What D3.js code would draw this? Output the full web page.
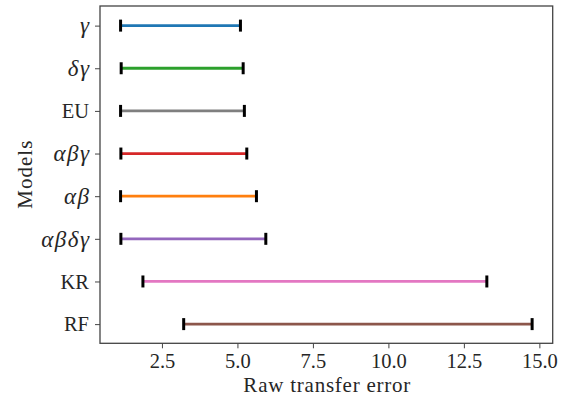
<!DOCTYPE html>
<html>
<head>
<meta charset="utf-8">
<script src="https://cdn.jsdelivr.net/npm/d3@7"></script>
<style>
  html, body { margin: 0; padding: 0; background: #fff; }
  svg text { font-family: "Liberation Serif", "DejaVu Serif", serif; fill: #262626; }
</style>
</head>
<body>
<svg id="chart" width="561" height="402"></svg>
<script>
// Models, top to bottom, with the low/high end of each raw transfer error range
const models = ["γ", "δγ", "EU", "αβγ", "αβ", "αβδγ", "KR", "RF"];
const italicModels = [true, true, false, true, true, true, false, false];
const lowValues  = [1.13, 1.15, 1.13, 1.14, 1.13, 1.14, 1.87, 3.22];
const highValues = [5.10, 5.19, 5.23, 5.31, 5.63, 5.94, 13.26, 14.76];
const colors = ["#1f77b4", "#2ca02c", "#7f7f7f", "#d62728", "#ff7f0e", "#9467bd", "#e377c2", "#8c564b"];
const xTicks = [2.5, 5.0, 7.5, 10.0, 12.5, 15.0];

(function () {
  const svg = d3.select("#chart");
  const plotLeft = 100, plotRight = 552.7, plotTop = 6, plotBottom = 343.3;

  // x range padded by 5% of the data span on each side
  const lo = d3.min(lowValues), hi = d3.max(highValues), pad = (hi - lo) * 0.05;
  const x = d3.scaleLinear().domain([lo - pad, hi + pad]).range([plotLeft, plotRight]);
  const y = d3.scaleLinear().domain([-0.46, models.length - 1 + 0.45]).range([plotTop, plotBottom]);

  const rows = models.map((m, i) => ({ m, i, lo: lowValues[i], hi: highValues[i], c: colors[i] }));

  // range lines
  svg.append("g").selectAll("line").data(rows).join("line")
    .attr("x1", d => x(d.lo)).attr("x2", d => x(d.hi))
    .attr("y1", d => y(d.i)).attr("y2", d => y(d.i))
    .attr("stroke", d => d.c).attr("stroke-width", 2.8);

  // end caps
  const caps = rows.flatMap(d => [{ v: d.lo, i: d.i }, { v: d.hi, i: d.i }]);
  svg.append("g").selectAll("line").data(caps).join("line")
    .attr("x1", d => x(d.v)).attr("x2", d => x(d.v))
    .attr("y1", d => y(d.i) - 6).attr("y2", d => y(d.i) + 6)
    .attr("stroke", "#000").attr("stroke-width", 3);

  // x axis
  const xAxis = svg.append("g").attr("transform", `translate(0,${plotBottom})`)
    .call(d3.axisBottom(x).tickValues(xTicks).tickFormat(d3.format(".1f")).tickSize(5).tickPadding(5));
  xAxis.select(".domain").remove();
  xAxis.selectAll(".tick line").attr("stroke", "#444").attr("stroke-width", 1);
  xAxis.selectAll(".tick text").attr("font-size", 20.5).attr("fill", "#262626")
    .attr("font-family", "Liberation Serif, serif");

  // y axis: greek model names in a serif italic, the rest upright
  const yAxis = svg.append("g").attr("transform", `translate(${plotLeft},0)`)
    .call(d3.axisLeft(y).tickValues(d3.range(models.length)).tickFormat(i => models[i]).tickSize(5).tickPadding(6));
  yAxis.select(".domain").remove();
  yAxis.selectAll(".tick line").attr("stroke", "#444").attr("stroke-width", 1);
  yAxis.selectAll(".tick text").attr("fill", "#262626")
    .attr("font-family", "Liberation Serif, serif")
    .attr("font-size", i => italicModels[i] ? 23 : 20.5)
    .attr("letter-spacing", i => italicModels[i] ? 1.5 : 0)
    .attr("dx", i => italicModels[i] ? 1.5 : 0)
    .attr("font-style", i => italicModels[i] ? "italic" : "normal");

  // frame
  svg.append("rect").attr("x", plotLeft).attr("y", plotTop)
    .attr("width", plotRight - plotLeft).attr("height", plotBottom - plotTop)
    .attr("fill", "none").attr("stroke", "#444").attr("stroke-width", 1.3);

  // axis titles
  svg.append("text").attr("x", (plotLeft + plotRight) / 2 + 0.5).attr("y", 391.5)
    .attr("text-anchor", "middle").attr("font-size", 21)
    .attr("textLength", 167).attr("lengthAdjust", "spacing").text("Raw transfer error");
  svg.append("text").attr("transform", `translate(32,${(plotTop + plotBottom) / 2}) rotate(-90)`)
    .attr("text-anchor", "middle").attr("font-size", 21)
    .attr("textLength", 68).attr("lengthAdjust", "spacing").text("Models");
})();
</script>
</body>
</html>
